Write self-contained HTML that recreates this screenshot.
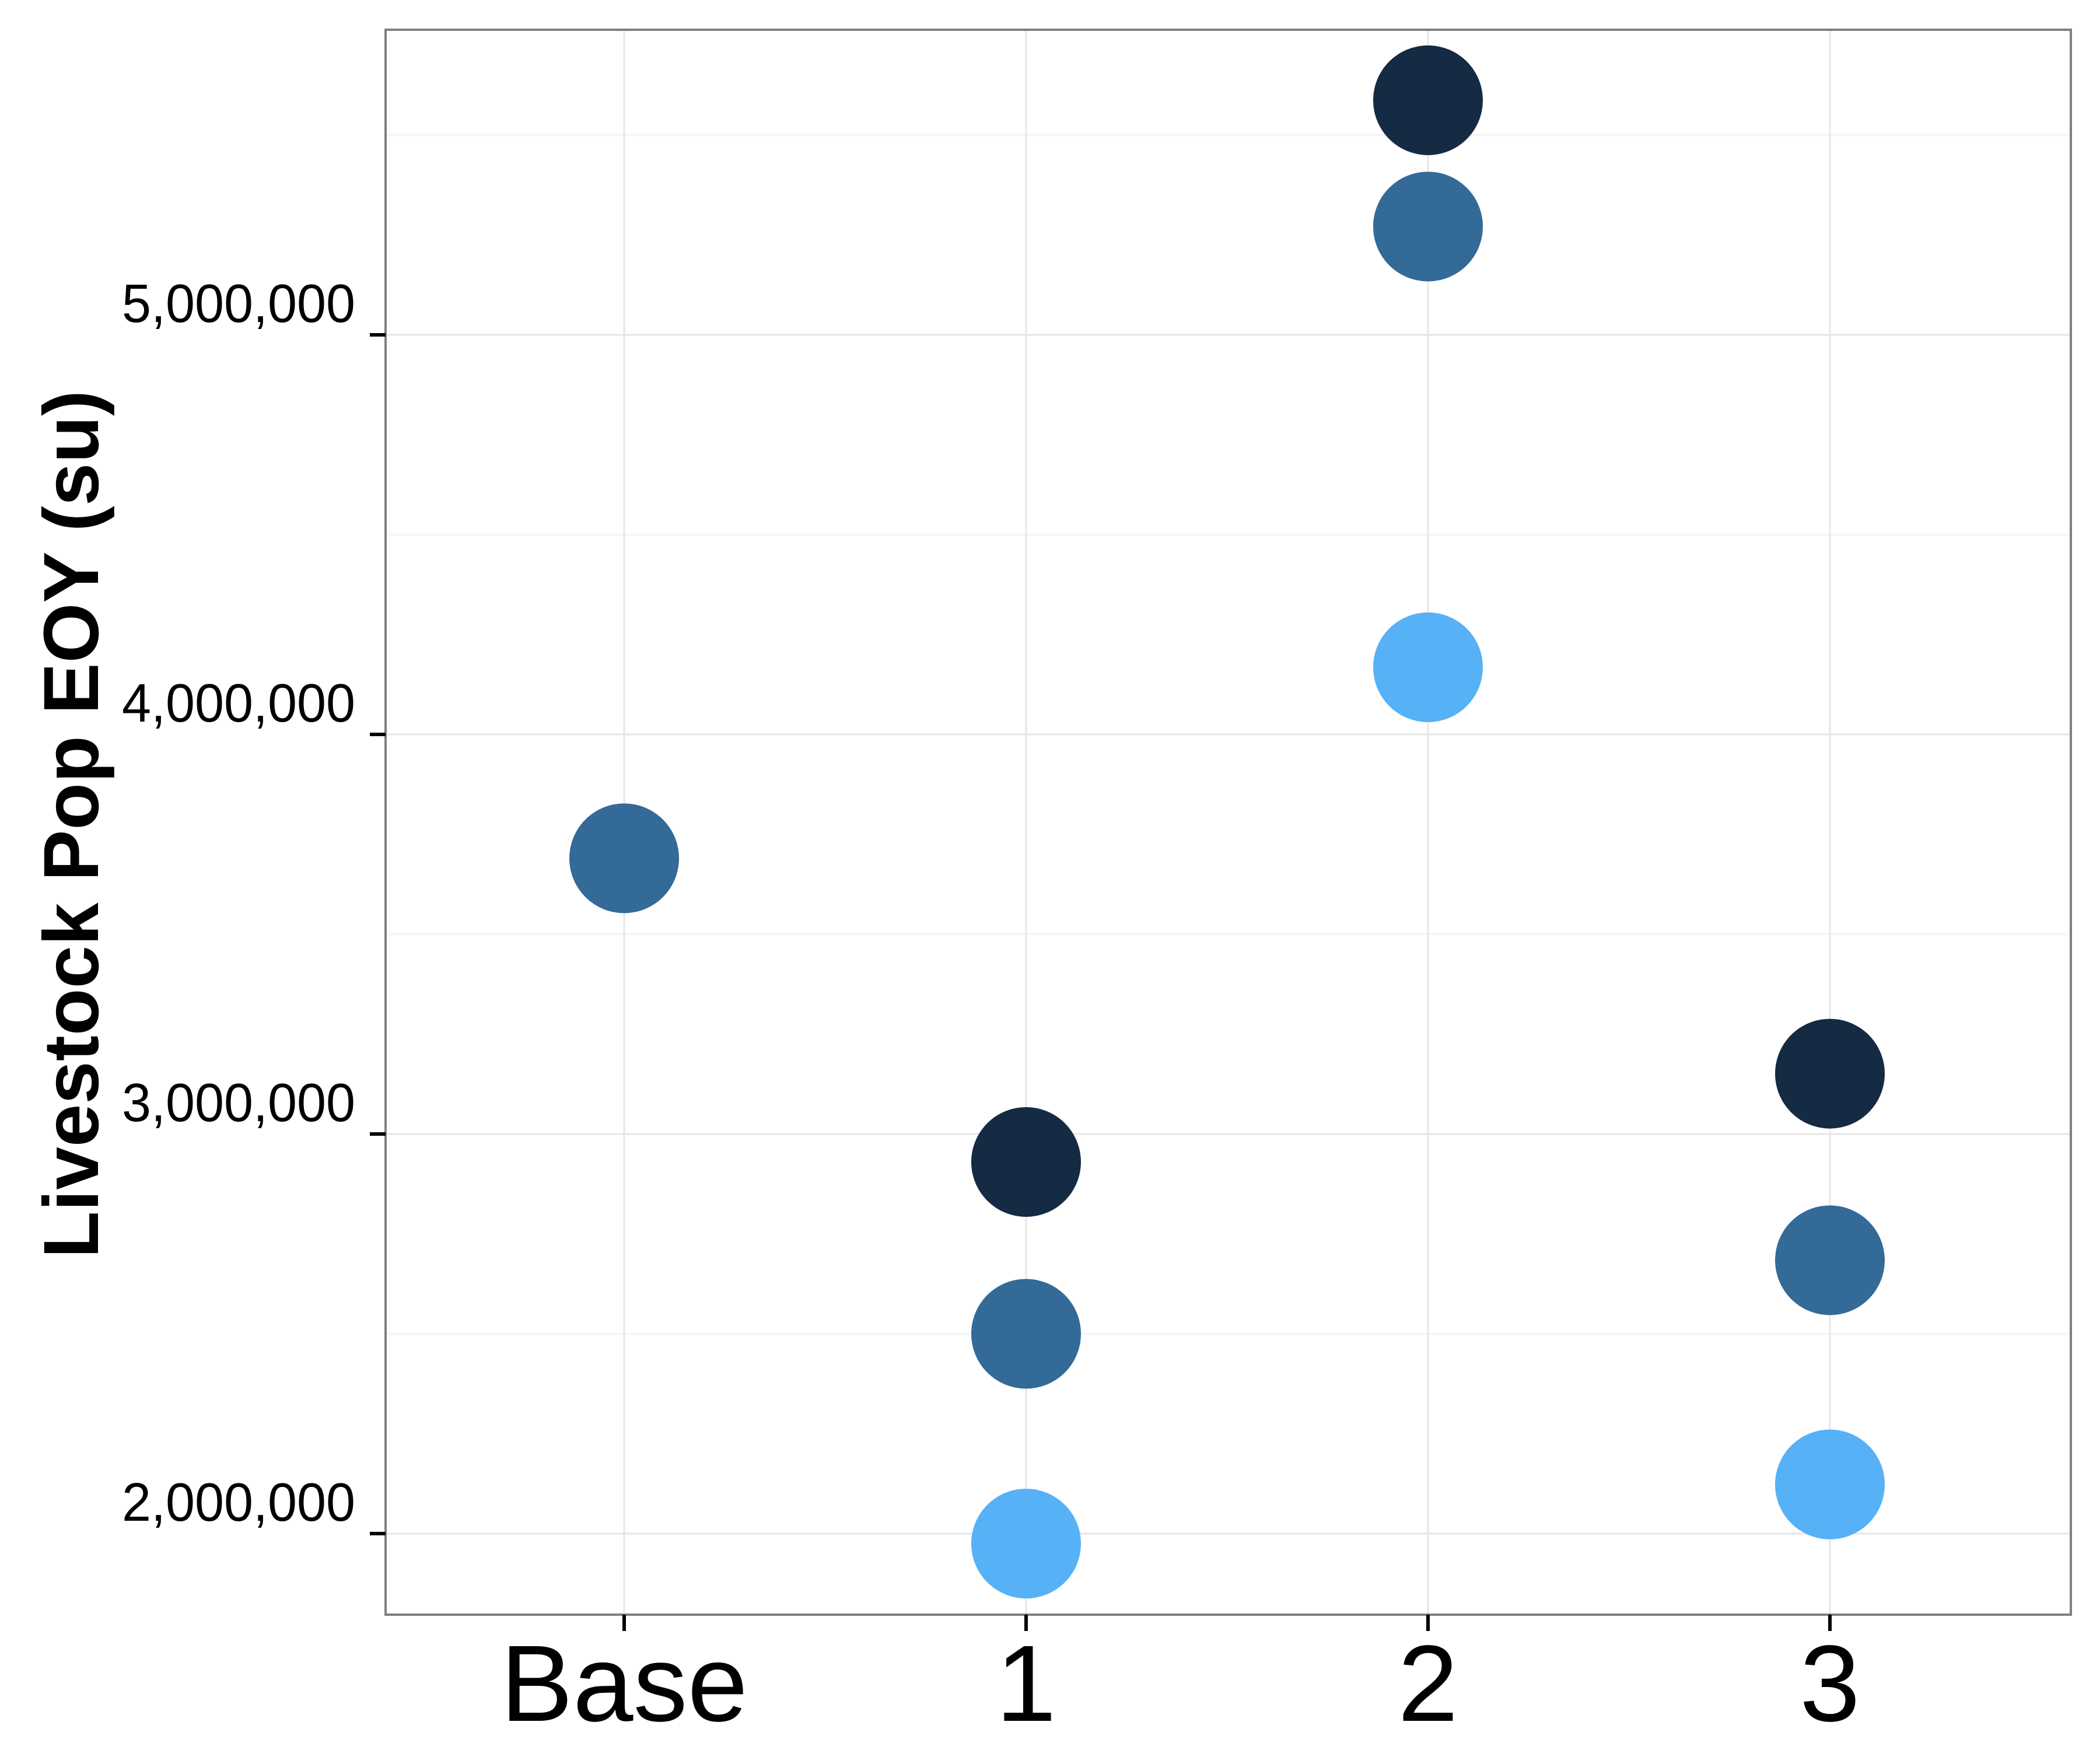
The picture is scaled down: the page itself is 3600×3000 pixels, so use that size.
<!DOCTYPE html>
<html><head><meta charset="utf-8"><style>
html,body{margin:0;padding:0;background:#fff;}
svg{display:block;}
text{font-family:"Liberation Sans",sans-serif;}
</style></head><body>
<svg id="chart" width="3600" height="3000" viewBox="0 0 3600 3000" xmlns="http://www.w3.org/2000/svg">
<rect x="0" y="0" width="3600" height="3000" fill="#fff"/>
<g id="grid"></g>
<g id="points"></g>
<rect x="661" y="51" width="2889" height="2717" fill="none" stroke="#7f7f7f" stroke-width="4"/>
<g id="axes"></g>
<text x="168" y="1413" transform="rotate(-90 168 1413)" text-anchor="middle" font-weight="bold" font-size="134" textLength="1488" lengthAdjust="spacingAndGlyphs" fill="#000">Livestock Pop EOY (su)</text>
</svg>
<script>
const categories = ["Base", "1", "2", "3"];
const seriesDark = [null, 2.93, 5.587, 3.151];
const seriesMid = [3.69, 2.50, 5.271, 2.684];
const seriesLight = [null, 1.975, 4.168, 2.123];
const yTicks = [2, 3, 4, 5];
const yTickLabels = ["2,000,000", "3,000,000", "4,000,000", "5,000,000"];
const yMinor = [2.5, 3.5, 4.5, 5.5];

const NS = "http://www.w3.org/2000/svg";
const px0 = 661, px1 = 3550, py0 = 51, py1 = 2768;
function xScale(i){ return 1070 + i * 689; }
function yScale(v){ return 2629 - (v - 2) * 685; }
function mk(tag, attrs, parent){ const e = document.createElementNS(NS, tag); for (const k in attrs) e.setAttribute(k, attrs[k]); parent.appendChild(e); return e; }

const grid = document.getElementById('grid');
const pts = document.getElementById('points');
const axes = document.getElementById('axes');

yMinor.forEach(v => {
  const l = mk('line', {x1: px0, x2: px1, y1: yScale(v), y2: yScale(v), stroke: '#f6f6f6', 'stroke-width': 4}, grid);
  
  
});
yTicks.forEach((v, i) => {
  const y = yScale(v);
  const l = mk('line', {x1: px0, x2: px1, y1: y, y2: y, stroke: '#e6e6e6', 'stroke-width': 3}, grid);
  
  
  const t = mk('line', {x1: 634, x2: 661, y1: y, y2: y, stroke: '#000', 'stroke-width': 6}, axes);
  
  
  const tx = mk('text', {x: 609, y: y - 22, 'text-anchor': 'end', 'font-size': 93, textLength: 400, lengthAdjust: 'spacingAndGlyphs', fill: '#000'}, axes);
  tx.textContent = yTickLabels[i];
  
  
});
categories.forEach((c, i) => {
  const x = xScale(i);
  const l = mk('line', {x1: x, x2: x, y1: py0, y2: py1, stroke: '#e6e6e6', 'stroke-width': 3}, grid);
  
  
  const t = mk('line', {x1: x, x2: x, y1: py1, y2: 2796, stroke: '#000', 'stroke-width': 6}, axes);
  
  
  const tx = mk('text', {x: x, y: 2950, 'text-anchor': 'middle', 'font-size': 186, fill: '#000'}, axes);
  tx.textContent = c;
  
  
});
function drawSeries(arr, color, name){
  arr.forEach((v, i) => {
    if (v === null) return;
    const c = mk('circle', {cx: xScale(i), cy: yScale(v), r: 94, fill: color}, pts);
    
    
  });
}
drawSeries(seriesLight, '#56b1f7', 'point-light');
drawSeries(seriesMid, '#336a98', 'point-mid');
drawSeries(seriesDark, '#152a43', 'point-dark');
</script>
</body></html>
